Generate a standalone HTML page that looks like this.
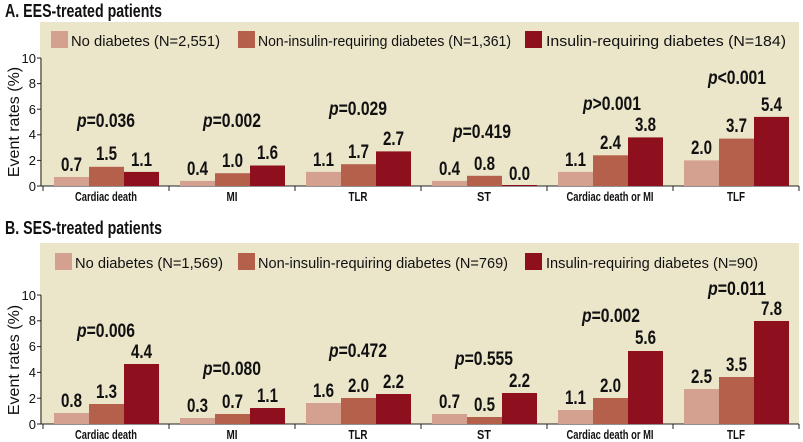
<!DOCTYPE html>
<html><head><meta charset="utf-8"><style>
body{margin:0;background:#fff}
svg{display:block}
text{font-family:"Liberation Sans",sans-serif;fill:#111}
.t{font-weight:bold;font-size:18px}
.lg{font-size:15px}
.v{font-weight:bold;font-size:19px}
.p{font-weight:bold;font-size:19px}
.c{font-size:13px;font-weight:bold}
.y{font-size:13px}
.ax{font-size:16px}
</style></head><body>
<svg width="803" height="442" viewBox="0 0 803 442">
<!-- Panel A -->
<text class="t" x="5" y="17" textLength="157" lengthAdjust="spacingAndGlyphs">A. EES-treated patients</text>
<rect x="40" y="22" width="759" height="164" fill="#ebe5ca"/>
<rect x="51" y="31" width="17" height="17" fill="#d4a08f"/>
<text class="lg" x="71" y="46" textLength="149" lengthAdjust="spacingAndGlyphs">No diabetes (N=2,551)</text>
<rect x="238" y="31" width="17" height="17" fill="#b4604b"/>
<text class="lg" x="258" y="46" textLength="253" lengthAdjust="spacingAndGlyphs">Non-insulin-requiring diabetes (N=1,361)</text>
<rect x="525" y="31" width="17" height="17" fill="#8e0f1e"/>
<text class="lg" x="546" y="46" textLength="240" lengthAdjust="spacingAndGlyphs">Insulin-requiring diabetes (N=184)</text>
<g stroke="#222" stroke-width="1" fill="none">
<line x1="41" y1="58" x2="41" y2="186"/>
<line x1="41" y1="186" x2="799" y2="186"/>
<line x1="37" y1="58" x2="41" y2="58"/><line x1="37" y1="83.6" x2="41" y2="83.6"/><line x1="37" y1="109.2" x2="41" y2="109.2"/><line x1="37" y1="134.8" x2="41" y2="134.8"/><line x1="37" y1="160.4" x2="41" y2="160.4"/><line x1="37" y1="186" x2="41" y2="186"/>
<line x1="43" y1="186" x2="43" y2="191"/><line x1="169" y1="186" x2="169" y2="191"/><line x1="295" y1="186" x2="295" y2="191"/><line x1="421" y1="186" x2="421" y2="191"/><line x1="547" y1="186" x2="547" y2="191"/><line x1="673" y1="186" x2="673" y2="191"/><line x1="799" y1="186" x2="799" y2="191"/>
</g>
<g text-anchor="end">
<text class="y" x="36" y="63">10</text><text class="y" x="36" y="88">8</text><text class="y" x="36" y="114">6</text><text class="y" x="36" y="139">4</text><text class="y" x="36" y="165">2</text><text class="y" x="36" y="191">0</text>
</g>
<text class="ax" transform="translate(19,122) rotate(-90)" text-anchor="middle">Event rates (%)</text>
<g>
<rect x="54" y="177" width="35" height="9" fill="#d4a08f"/><rect x="89" y="166.8" width="35" height="19.2" fill="#b4604b"/><rect x="124" y="171.9" width="35" height="14.1" fill="#8e0f1e"/>
<rect x="180" y="180.9" width="35" height="5.1" fill="#d4a08f"/><rect x="215" y="173.2" width="35" height="12.8" fill="#b4604b"/><rect x="250" y="165.5" width="35" height="20.5" fill="#8e0f1e"/>
<rect x="306" y="171.9" width="35" height="14.1" fill="#d4a08f"/><rect x="341" y="164.2" width="35" height="21.8" fill="#b4604b"/><rect x="376" y="151.4" width="35" height="34.6" fill="#8e0f1e"/>
<rect x="432" y="180.9" width="35" height="5.1" fill="#d4a08f"/><rect x="467" y="175.8" width="35" height="10.2" fill="#b4604b"/><rect x="502" y="185" width="35" height="1" fill="#8e0f1e"/>
<rect x="558" y="171.9" width="35" height="14.1" fill="#d4a08f"/><rect x="593" y="155.3" width="35" height="30.7" fill="#b4604b"/><rect x="628" y="137.4" width="35" height="48.6" fill="#8e0f1e"/>
<rect x="684" y="160.4" width="35" height="25.6" fill="#d4a08f"/><rect x="719" y="138.6" width="35" height="47.4" fill="#b4604b"/><rect x="754" y="116.9" width="35" height="69.1" fill="#8e0f1e"/>
</g>
<g text-anchor="middle" lengthAdjust="spacingAndGlyphs">
<text class="v" x="71.5" y="171" textLength="21" lengthAdjust="spacingAndGlyphs">0.7</text><text class="v" x="106.5" y="160" textLength="21" lengthAdjust="spacingAndGlyphs">1.5</text><text class="v" x="141.5" y="166" textLength="21" lengthAdjust="spacingAndGlyphs">1.1</text>
<text class="v" x="197.5" y="175" textLength="21" lengthAdjust="spacingAndGlyphs">0.4</text><text class="v" x="232.5" y="167" textLength="21" lengthAdjust="spacingAndGlyphs">1.0</text><text class="v" x="267.5" y="159" textLength="21" lengthAdjust="spacingAndGlyphs">1.6</text>
<text class="v" x="323.5" y="166" textLength="21" lengthAdjust="spacingAndGlyphs">1.1</text><text class="v" x="358.5" y="158" textLength="21" lengthAdjust="spacingAndGlyphs">1.7</text><text class="v" x="393.5" y="145" textLength="21" lengthAdjust="spacingAndGlyphs">2.7</text>
<text class="v" x="449.5" y="175" textLength="21" lengthAdjust="spacingAndGlyphs">0.4</text><text class="v" x="484.5" y="170" textLength="21" lengthAdjust="spacingAndGlyphs">0.8</text><text class="v" x="519.5" y="180" textLength="21" lengthAdjust="spacingAndGlyphs">0.0</text>
<text class="v" x="575.5" y="166" textLength="21" lengthAdjust="spacingAndGlyphs">1.1</text><text class="v" x="610.5" y="149" textLength="21" lengthAdjust="spacingAndGlyphs">2.4</text><text class="v" x="645.5" y="131" textLength="21" lengthAdjust="spacingAndGlyphs">3.8</text>
<text class="v" x="701.5" y="154" textLength="21" lengthAdjust="spacingAndGlyphs">2.0</text><text class="v" x="736.5" y="132" textLength="21" lengthAdjust="spacingAndGlyphs">3.7</text><text class="v" x="771.5" y="111" textLength="21" lengthAdjust="spacingAndGlyphs">5.4</text>
<text class="p" x="106" y="127" textLength="58" lengthAdjust="spacingAndGlyphs"><tspan font-style="italic">p</tspan>=0.036</text>
<text class="p" x="232" y="127" textLength="58" lengthAdjust="spacingAndGlyphs"><tspan font-style="italic">p</tspan>=0.002</text>
<text class="p" x="358" y="115" textLength="58" lengthAdjust="spacingAndGlyphs"><tspan font-style="italic">p</tspan>=0.029</text>
<text class="p" x="482" y="138" textLength="58" lengthAdjust="spacingAndGlyphs"><tspan font-style="italic">p</tspan>=0.419</text>
<text class="p" x="612" y="110" textLength="58" lengthAdjust="spacingAndGlyphs"><tspan font-style="italic">p</tspan>&gt;0.001</text>
<text class="p" x="737" y="84" textLength="58" lengthAdjust="spacingAndGlyphs"><tspan font-style="italic">p</tspan>&lt;0.001</text>
<text class="c" x="106" y="201" textLength="62" lengthAdjust="spacingAndGlyphs">Cardiac death</text><text class="c" x="232" y="201" textLength="11" lengthAdjust="spacingAndGlyphs">MI</text><text class="c" x="358" y="201" textLength="19" lengthAdjust="spacingAndGlyphs">TLR</text><text class="c" x="484" y="201" textLength="14" lengthAdjust="spacingAndGlyphs">ST</text><text class="c" x="610" y="201" textLength="87" lengthAdjust="spacingAndGlyphs">Cardiac death or MI</text><text class="c" x="736" y="201" textLength="18" lengthAdjust="spacingAndGlyphs">TLF</text>
</g>

<!-- Panel B -->
<text class="t" x="5" y="234" textLength="157" lengthAdjust="spacingAndGlyphs">B. SES-treated patients</text>
<rect x="40" y="243" width="759" height="181" fill="#ebe5ca"/>
<rect x="55" y="253" width="17" height="17" fill="#d4a08f"/>
<text class="lg" x="75" y="268" textLength="148" lengthAdjust="spacingAndGlyphs">No diabetes (N=1,569)</text>
<rect x="238" y="253" width="17" height="17" fill="#b4604b"/>
<text class="lg" x="258" y="268" textLength="250" lengthAdjust="spacingAndGlyphs">Non-insulin-requiring diabetes (N=769)</text>
<rect x="525" y="253" width="17" height="17" fill="#8e0f1e"/>
<text class="lg" x="546" y="268" textLength="212" lengthAdjust="spacingAndGlyphs">Insulin-requiring diabetes (N=90)</text>
<g stroke="#222" stroke-width="1" fill="none">
<line x1="41" y1="295" x2="41" y2="424"/>
<line x1="41" y1="424" x2="799" y2="424"/>
<line x1="37" y1="295" x2="41" y2="295"/><line x1="37" y1="320.8" x2="41" y2="320.8"/><line x1="37" y1="346.6" x2="41" y2="346.6"/><line x1="37" y1="372.4" x2="41" y2="372.4"/><line x1="37" y1="398.2" x2="41" y2="398.2"/><line x1="37" y1="424" x2="41" y2="424"/>
<line x1="43" y1="424" x2="43" y2="429"/><line x1="169" y1="424" x2="169" y2="429"/><line x1="295" y1="424" x2="295" y2="429"/><line x1="421" y1="424" x2="421" y2="429"/><line x1="547" y1="424" x2="547" y2="429"/><line x1="673" y1="424" x2="673" y2="429"/><line x1="799" y1="424" x2="799" y2="429"/>
</g>
<g text-anchor="end">
<text class="y" x="36" y="300">10</text><text class="y" x="36" y="325">8</text><text class="y" x="36" y="351">6</text><text class="y" x="36" y="377">4</text><text class="y" x="36" y="403">2</text><text class="y" x="36" y="429">0</text>
</g>
<text class="ax" transform="translate(19,360) rotate(-90)" text-anchor="middle">Event rates (%)</text>
<g>
<rect x="54" y="413" width="35" height="11" fill="#d4a08f"/><rect x="89" y="404" width="35" height="20" fill="#b4604b"/><rect x="124" y="364" width="35" height="60" fill="#8e0f1e"/>
<rect x="180" y="418" width="35" height="6" fill="#d4a08f"/><rect x="215" y="414" width="35" height="10" fill="#b4604b"/><rect x="250" y="408" width="35" height="16" fill="#8e0f1e"/>
<rect x="306" y="403" width="35" height="21" fill="#d4a08f"/><rect x="341" y="398" width="35" height="26" fill="#b4604b"/><rect x="376" y="394" width="35" height="30" fill="#8e0f1e"/>
<rect x="432" y="414" width="35" height="10" fill="#d4a08f"/><rect x="467" y="417" width="35" height="7" fill="#b4604b"/><rect x="502" y="393" width="35" height="31" fill="#8e0f1e"/>
<rect x="558" y="410" width="35" height="14" fill="#d4a08f"/><rect x="593" y="398" width="35" height="26" fill="#b4604b"/><rect x="628" y="351" width="35" height="73" fill="#8e0f1e"/>
<rect x="684" y="389" width="35" height="35" fill="#d4a08f"/><rect x="719" y="377" width="35" height="47" fill="#b4604b"/><rect x="754" y="321" width="35" height="103" fill="#8e0f1e"/>
</g>
<g text-anchor="middle">
<text class="v" x="71.5" y="407" textLength="21" lengthAdjust="spacingAndGlyphs">0.8</text><text class="v" x="106.5" y="398" textLength="21" lengthAdjust="spacingAndGlyphs">1.3</text><text class="v" x="141.5" y="358" textLength="21" lengthAdjust="spacingAndGlyphs">4.4</text>
<text class="v" x="197.5" y="412" textLength="21" lengthAdjust="spacingAndGlyphs">0.3</text><text class="v" x="232.5" y="408" textLength="21" lengthAdjust="spacingAndGlyphs">0.7</text><text class="v" x="267.5" y="402" textLength="21" lengthAdjust="spacingAndGlyphs">1.1</text>
<text class="v" x="323.5" y="397" textLength="21" lengthAdjust="spacingAndGlyphs">1.6</text><text class="v" x="358.5" y="392" textLength="21" lengthAdjust="spacingAndGlyphs">2.0</text><text class="v" x="393.5" y="388" textLength="21" lengthAdjust="spacingAndGlyphs">2.2</text>
<text class="v" x="449.5" y="408" textLength="21" lengthAdjust="spacingAndGlyphs">0.7</text><text class="v" x="484.5" y="411" textLength="21" lengthAdjust="spacingAndGlyphs">0.5</text><text class="v" x="519.5" y="387" textLength="21" lengthAdjust="spacingAndGlyphs">2.2</text>
<text class="v" x="575.5" y="404" textLength="21" lengthAdjust="spacingAndGlyphs">1.1</text><text class="v" x="610.5" y="392" textLength="21" lengthAdjust="spacingAndGlyphs">2.0</text><text class="v" x="645.5" y="344" textLength="21" lengthAdjust="spacingAndGlyphs">5.6</text>
<text class="v" x="701.5" y="383" textLength="21" lengthAdjust="spacingAndGlyphs">2.5</text><text class="v" x="736.5" y="371" textLength="21" lengthAdjust="spacingAndGlyphs">3.5</text><text class="v" x="771.5" y="315" textLength="21" lengthAdjust="spacingAndGlyphs">7.8</text>
<text class="p" x="106" y="337" textLength="58" lengthAdjust="spacingAndGlyphs"><tspan font-style="italic">p</tspan>=0.006</text>
<text class="p" x="232" y="375" textLength="58" lengthAdjust="spacingAndGlyphs"><tspan font-style="italic">p</tspan>=0.080</text>
<text class="p" x="358" y="357" textLength="58" lengthAdjust="spacingAndGlyphs"><tspan font-style="italic">p</tspan>=0.472</text>
<text class="p" x="484" y="365" textLength="58" lengthAdjust="spacingAndGlyphs"><tspan font-style="italic">p</tspan>=0.555</text>
<text class="p" x="611" y="322" textLength="58" lengthAdjust="spacingAndGlyphs"><tspan font-style="italic">p</tspan>=0.002</text>
<text class="p" x="737" y="295" textLength="58" lengthAdjust="spacingAndGlyphs"><tspan font-style="italic">p</tspan>=0.011</text>
<text class="c" x="106" y="439" textLength="62" lengthAdjust="spacingAndGlyphs">Cardiac death</text><text class="c" x="232" y="439" textLength="11" lengthAdjust="spacingAndGlyphs">MI</text><text class="c" x="358" y="439" textLength="19" lengthAdjust="spacingAndGlyphs">TLR</text><text class="c" x="484" y="439" textLength="14" lengthAdjust="spacingAndGlyphs">ST</text><text class="c" x="610" y="439" textLength="87" lengthAdjust="spacingAndGlyphs">Cardiac death or MI</text><text class="c" x="736" y="439" textLength="18" lengthAdjust="spacingAndGlyphs">TLF</text>
</g>
</svg>
</body></html>
